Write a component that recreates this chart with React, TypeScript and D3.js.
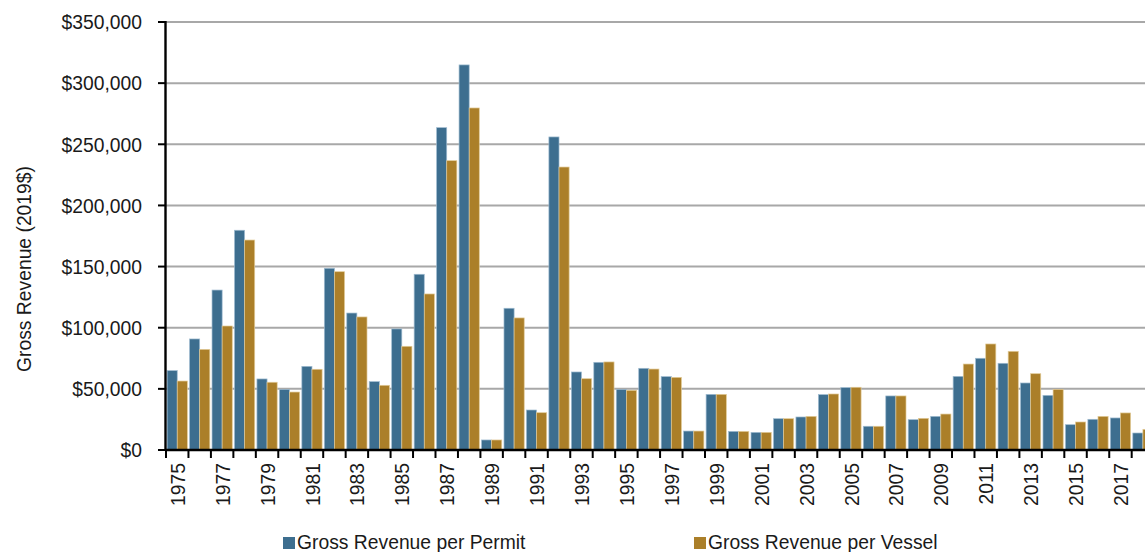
import React from "react";
import * as d3 from "d3";

const years: string[] = [
  "1975","1976","1977","1978","1979","1980","1981","1982","1983","1984",
  "1985","1986","1987","1988","1989","1990","1991","1992","1993","1994",
  "1995","1996","1997","1998","1999","2000","2001","2002","2003","2004",
  "2005","2006","2007","2008","2009","2010","2011","2012","2013","2014",
  "2015","2016","2017","2018",
];

const perPermit: number[] = [
  64900, 90800, 130800, 179700, 58100, 49600, 68400, 148600, 112000, 55900,
  99000, 143700, 263600, 314900, 8200, 115900, 32700, 256000, 63800, 71700,
  49600, 66800, 60000, 15500, 45500, 15200, 14400, 25600, 27000, 45300,
  51000, 19400, 44200, 24800, 27500, 60200, 75000, 70900, 54800, 44700,
  20700, 25100, 26200, 13900,
];

const perVessel: number[] = [
  56400, 82300, 101400, 171700, 55400, 47400, 66000, 145800, 108800, 52900,
  84800, 127600, 236600, 279700, 8200, 108000, 30500, 231400, 58300, 72000,
  48800, 66200, 59400, 15500, 45500, 15200, 14400, 25600, 27500, 45800,
  51300, 19400, 44200, 25900, 29400, 70300, 86700, 80700, 62400, 49600,
  22900, 27500, 30300, 16900,
];

const yTicks: number[] = [0, 50000, 100000, 150000, 200000, 250000, 300000, 350000];
const seriesNames: string[] = ["Gross Revenue per Permit", "Gross Revenue per Vessel"];
const seriesColors: string[] = ["#3D6E8F", "#AB7F29"];
const seriesStrokes: string[] = ["#9FBBD0", "#E2CB98"];

const FONT = "'Liberation Sans', Arial, sans-serif";
const SX = 0.92;

export default function App() {
  const W = 1145;
  const H = 552;
  const left = 166;
  const top = 22;
  const bottom = 450;
  const step = 22.458;
  const right = left + step * years.length;

  const x = d3.scaleBand<string>().domain(years).range([left, right]).paddingInner(0).paddingOuter(0);
  const inner = d3.scaleBand<string>().domain(["p", "v"]).range([0, x.bandwidth()]).paddingInner(0).paddingOuter(0.11);
  const y = d3.scaleLinear().domain([0, 350000]).range([bottom, top]);
  const fmt = (v: number) => "$" + d3.format(",")(v);

  const textStyle: React.CSSProperties = { fontFamily: FONT, fontSize: 21, fill: "#1a1a1a" };

  return (
    <div style={{ position: "absolute", left: 0, top: 0, width: W, height: H, overflow: "hidden", background: "#fff" }}>
      <svg width={W} height={H} style={{ display: "block" }}>
        {/* gridlines */}
        {yTicks.filter((t) => t > 0).map((t) => (
          <line key={"g" + t} x1={left} x2={W} y1={y(t)} y2={y(t)} stroke="#A8A8A8" strokeWidth={2} />
        ))}
        {/* bars */}
        {years.map((yr, i) => (
          <g key={yr} transform={`translate(${x(yr)},0)`}>
            <rect x={inner("p")} y={y(perPermit[i])} width={inner.bandwidth()} height={bottom - y(perPermit[i])}
              fill={seriesColors[0]} stroke={seriesStrokes[0]} strokeWidth={0.7} />
            <rect x={inner("v")} y={y(perVessel[i])} width={inner.bandwidth()} height={bottom - y(perVessel[i])}
              fill={seriesColors[1]} stroke={seriesStrokes[1]} strokeWidth={0.7} />
          </g>
        ))}
        {/* y axis */}
        <line x1={left - 0.5} x2={left - 0.5} y1={top - 1} y2={bottom + 1} stroke="#000" strokeWidth={2.4} />
        {yTicks.map((t) => (
          <g key={"yt" + t}>
            <line x1={left - 8} x2={left} y1={y(t)} y2={y(t)} stroke="#000" strokeWidth={2} />
            <text transform={`translate(142,${y(t)}) scale(${SX},1)`} dy="0.35em" textAnchor="end" style={textStyle}>{fmt(t)}</text>
          </g>
        ))}
        {/* x axis */}
        <line x1={left - 1} x2={W} y1={bottom} y2={bottom} stroke="#000" strokeWidth={2.4} />
        {years.map((yr) => (
          <line key={"xt" + yr} x1={x(yr)!} x2={x(yr)!} y1={bottom} y2={bottom + 8} stroke="#000" strokeWidth={2} />
        ))}
        {years.map((yr, i) =>
          i % 2 === 0 ? (
            <text key={"xl" + yr}
              transform={`translate(${x(yr)! + x.bandwidth() / 2},${463}) rotate(-90) scale(${SX},1)`}
              dy="0.36em" textAnchor="end" style={textStyle}>{yr}</text>
          ) : null
        )}
        {/* y title */}
        <text transform={`translate(31,269) rotate(-90) scale(${SX},1)`} textAnchor="middle" style={textStyle}>Gross Revenue (2019$)</text>
        {/* legend */}
        {seriesNames.map((name, i) => {
          const lx = i === 0 ? 283 : 694;
          return (
            <g key={name}>
              <rect x={lx} y={537} width={12} height={12} fill={seriesColors[i]} />
              <text transform={`translate(${lx + 14},549) scale(${SX},1)`} style={textStyle}>{name}</text>
            </g>
          );
        })}
      </svg>
    </div>
  );
}
